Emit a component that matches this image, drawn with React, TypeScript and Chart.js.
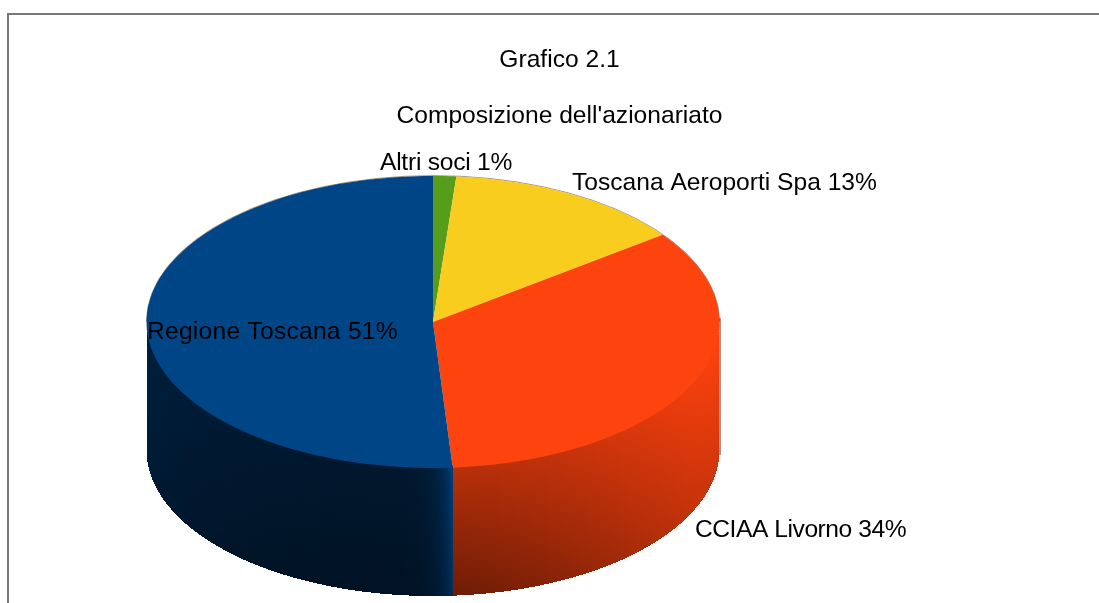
import React, { useEffect, useRef } from "react";
import { Chart, registerables } from "chart.js";

Chart.register(...registerables);

const titleLines = ["Grafico 2.1", "Composizione dell'azionariato"];
const categories = ["Altri soci", "Toscana Aeroporti Spa", "CCIAA Livorno", "Regione Toscana"];
const shownPercents = [1, 13, 34, 51];
const shareValues = [1.3, 13.5, 34.1, 51.1];
const sliceColors = ["#579d1c", "#f9cd1e", "#fd430e", "#004586"];
const sideRgb = [[87, 157, 28], [255, 211, 32], [255, 66, 14], [0, 69, 134]];

const FONT = '"Liberation Sans", Arial, sans-serif';
const FONT_SIZE = 24.6;

// projection of the flat pie into the tilted disc
const VIEW = { cx: 433, topCy: 322, bottomCy: 450, rx: 286.5, ry: 146 };
const LABEL_SPOTS = [
  { x: 380, y: 163, spacing: -0.25 },
  { x: 572, y: 183, spacing: 0 },
  { x: 695, y: 530, spacing: -0.45 },
  { x: 147, y: 332, spacing: 0.25 },
];

function sideLight(theta: number, t: number, sliceIndex: number, x: number, seamX: number) {
  const c = Math.cos(theta);
  let top: number, bottom: number;
  if (sliceIndex === 3) {
    top = 0.46 - 0.12 * Math.sin(theta);
    bottom = 0.42 - 0.16 * Math.sin(theta);
    const glow = Math.exp(-Math.max(0, seamX - x) / 12);
    top += 0.6 * glow;
    bottom += 0.42 * glow;
  } else {
    const k = Math.max(0, c);
    top = 0.72 + 0.28 * Math.pow(k, 2);
    bottom = 0.42 + 0.4 * Math.pow(k, 1.5);
  }
  return top + (bottom - top) * t;
}

const shade = (rgb: number[], f: number) =>
  `rgb(${rgb.map((v) => Math.round(Math.min(255, v * f))).join(",")})`;

const tiltPlugin = {
  id: "tilt",
  beforeDraw(chart: any) {
    const { ctx } = chart;
    ctx.save();
    ctx.fillStyle = "#fff";
    ctx.fillRect(0, 0, chart.width, chart.height);
    ctx.strokeStyle = "#777";
    ctx.lineWidth = 2;
    ctx.beginPath();
    ctx.moveTo(8, chart.height);
    ctx.lineTo(8, 14);
    ctx.lineTo(chart.width, 14);
    ctx.stroke();
    ctx.restore();
  },
  beforeDatasetsDraw(chart: any) {
    const { ctx } = chart;
    const arcs = chart.getDatasetMeta(0).data;
    const { cx, topCy, bottomCy, rx, ry } = VIEW;
    // thin back rim, seen just above the top surface
    ctx.save();
    ctx.strokeStyle = "rgba(70,40,0,0.5)";
    ctx.lineWidth = 1;
    ctx.beginPath();
    ctx.ellipse(cx, topCy - 0.4, rx, ry, 0, Math.PI, 2 * Math.PI);
    ctx.stroke();
    ctx.restore();
    // wall of the disc, one pixel column at a time across the visible front half
    const fromX = Math.ceil(cx - rx);
    const toX = Math.floor(cx + rx);
    for (let x = fromX; x < toX; x++) {
      const u = Math.min(1, Math.max(-1, (x + 0.5 - cx) / rx));
      const th = Math.acos(u);
      const i = arcs.findIndex((a: any) => th >= a.startAngle && th < a.endAngle);
      if (i < 0) continue;
      const arc = arcs[i];
      const seamX = cx + rx * Math.cos(Math.max(arc.startAngle, 0));
      const s = Math.sin(th);
      const y0 = topCy + ry * s - 2;
      const y1 = bottomCy + ry * s;
      const g = ctx.createLinearGradient(0, y0, 0, y1);
      for (const t of [0, 0.5, 1]) {
        g.addColorStop(t, shade(sideRgb[i], sideLight(th, t, i, x, seamX)));
      }
      ctx.fillStyle = g;
      ctx.fillRect(x, Math.floor(y0), 1, Math.round(y1 - Math.floor(y0)));
    }
    // dark sliver on the far right of the wall
    ctx.save();
    ctx.strokeStyle = "#7a1a02";
    ctx.lineWidth = 1;
    ctx.beginPath();
    ctx.moveTo(cx + rx + 0.5, topCy - 4);
    ctx.lineTo(cx + rx + 0.5, bottomCy + 5);
    ctx.stroke();
    ctx.restore();
    // flat pie -> tilted ellipse
    const a0 = arcs[0];
    ctx.save();
    ctx.translate(cx, topCy);
    ctx.scale(rx / a0.outerRadius, ry / a0.outerRadius);
    ctx.translate(-a0.x, -a0.y);
  },
  afterDatasetsDraw(chart: any) {
    const { ctx } = chart;
    ctx.restore();
    ctx.save();
    ctx.fillStyle = "#000";
    ctx.font = `${FONT_SIZE}px ${FONT}`;
    ctx.textBaseline = "middle";
    ctx.textAlign = "left";
    categories.forEach((name, i) => {
      ctx.letterSpacing = `${LABEL_SPOTS[i].spacing}px`;
      ctx.fillText(`${name} ${shownPercents[i]}%`, LABEL_SPOTS[i].x, LABEL_SPOTS[i].y);
    });
    ctx.restore();
  },
};

export default function App() {
  const ref = useRef<HTMLCanvasElement>(null);
  useEffect(() => {
    const chart = new Chart(ref.current!, {
      type: "pie",
      data: {
        labels: categories,
        datasets: [
          {
            data: shareValues,
            backgroundColor: sliceColors,
            borderWidth: 0,
            clip: false,
          } as any,
        ],
      },
      plugins: [tiltPlugin],
      options: {
        animation: false,
        responsive: false,
        devicePixelRatio: 1,
        layout: { padding: { left: 20, right: 0, top: 0, bottom: 0 } },
        plugins: {
          legend: { display: false },
          tooltip: { enabled: false },
          title: {
            display: true,
            text: titleLines,
            color: "#000",
            font: { family: FONT, size: FONT_SIZE, weight: "normal", lineHeight: 56 / FONT_SIZE },
            padding: { top: 32, bottom: 4 },
          },
        },
      },
    } as any);
    return () => chart.destroy();
  }, []);
  return (
    <div style={{ position: "fixed", left: 0, top: 0, width: 1099, height: 603, background: "#fff" }}>
      <canvas ref={ref} width={1099} height={603} style={{ display: "block" }} />
    </div>
  );
}
